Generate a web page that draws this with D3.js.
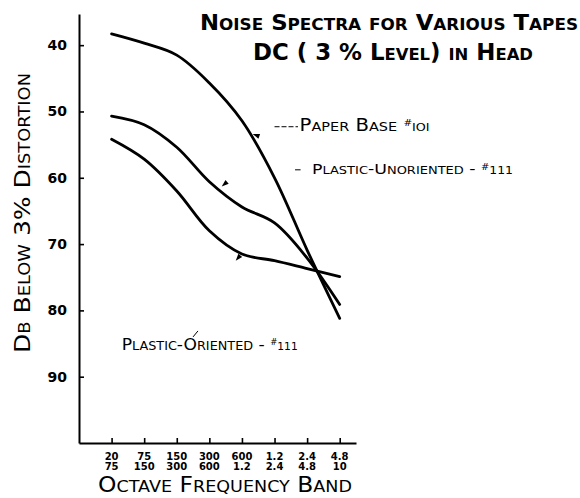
<!DOCTYPE html>
<html><head><meta charset="utf-8">
<script src="https://cdn.jsdelivr.net/npm/d3@7"></script>
<style>body{margin:0;background:#fff}</style>
</head><body>
<script>
// ---- data ----
const bands = [0, 1, 2, 3, 4, 5, 6, 7];
const bandTop = ["20", "75", "150", "300", "600", "1.2", "2.4", "4.8"];
const bandBottom = ["75", "150", "300", "600", "1.2", "2.4", "4.8", "10"];
const yTicks = [40, 50, 60, 70, 80, 90];
const paperBase = [38.3, 39.7, 41.5, 45.7, 51.4, 60.0, 70.9, 81.2];
const plasticUnoriented = [50.7, 52.0, 55.4, 60.6, 64.4, 66.8, 72.1, 79.1];
const plasticOriented = [54.2, 57.2, 62.0, 68.0, 71.5, 72.5, 73.7, 74.9];

const W = 580, H = 498;
const FONT = "DejaVu Sans";
const svg = d3.select("body").append("svg").attr("width", W).attr("height", H)
  .style("font-family", FONT);

const x = d3.scaleLinear().domain([-1, 7.5]).range([79, 356]);
const y = d3.scaleLinear().domain([35.3, 100]).range([14, 443]);

// small caps helper
function smallCaps(textSel, str, big, small) {
  const runs = [];
  for (const ch of str) {
    const isSmall = ch !== ch.toUpperCase();
    const last = runs[runs.length - 1];
    if (last && last.small === isSmall) last.s += ch; else runs.push({ s: ch, small: isSmall });
  }
  runs.forEach(r => textSel.append("tspan").attr("font-size", r.small ? small : big).text(r.s.toUpperCase()));
  return textSel;
}

// axes
const yAxis = svg.append("g").attr("transform", `translate(${x(-1)},0)`)
  .call(d3.axisLeft(y).tickValues(yTicks).tickSize(-5).tickSizeOuter(0).tickPadding(12));
yAxis.select(".domain").attr("stroke-width", 2);
yAxis.selectAll(".tick line").attr("stroke-width", 1.6);
yAxis.selectAll(".tick text").attr("font-size", 14).attr("font-weight", "bold").attr("font-family", FONT).attr("fill", "#000");

const xAxis = svg.append("g").attr("transform", `translate(0,${y(100)})`)
  .call(d3.axisBottom(x).tickValues(bands).tickSize(-5).tickSizeOuter(0).tickFormat(""));
xAxis.select(".domain").attr("stroke-width", 2);
xAxis.selectAll(".tick line").attr("stroke-width", 1.6);

const bandLabels = svg.append("g").attr("font-size", 10).attr("font-weight", "bold").attr("text-anchor", "middle");
bands.forEach(i => {
  bandLabels.append("text").attr("x", x(i)).attr("y", 460).text(bandTop[i]);
  bandLabels.append("text").attr("x", x(i)).attr("y", 470).text(bandBottom[i]);
});

// curves
const line = d3.line().x((d, i) => x(bands[i])).y(d => y(d)).curve(d3.curveCatmullRom.alpha(0.5));
[paperBase, plasticUnoriented, plasticOriented].forEach(s => {
  svg.append("path").attr("d", line(s)).attr("fill", "none").attr("stroke", "#000")
    .attr("stroke-width", 2.8).attr("stroke-linecap", "round");
});

// arrows on curves
function arrow(bx, dv, angle) {
  svg.append("path").attr("d", "M0,0 L7,-2.5 L7,2.5 Z").attr("fill", "#000")
    .attr("transform", `translate(${x(bx)},${y(dv)}) rotate(${angle})`);
}
arrow(4.33, 53.4, 20);
arrow(3.38, 61.3, -40);
arrow(3.81, 72.5, -50);

// labels
const paperT = svg.append("text").attr("x", x(5.77)).attr("y", y(52.9))
  .attr("textLength", 130).attr("lengthAdjust", "spacingAndGlyphs");
smallCaps(paperT, "Paper Base ", 17, 12.5);
paperT.append("tspan").attr("font-size", 9).attr("dy", -5).text("#");
paperT.append("tspan").attr("font-size", 11).attr("dy", 5).text("IOI");
svg.append("line").attr("x1", x(5.0)).attr("x2", x(5.72)).attr("y1", y(52.3)).attr("y2", y(52.3))
  .attr("stroke", "#000").attr("stroke-width", 1).attr("stroke-dasharray", "5,2");

const unorT = svg.append("text").attr("x", x(6.15)).attr("y", y(59.4))
  .attr("textLength", 201).attr("lengthAdjust", "spacingAndGlyphs");
smallCaps(unorT, "Plastic-Unoriented - ", 14, 10.5);
unorT.append("tspan").attr("font-size", 8).attr("dy", -4).text("#");
unorT.append("tspan").attr("font-size", 10).attr("dy", 4).text("111");
svg.append("line").attr("x1", x(5.63)).attr("x2", x(5.8)).attr("y1", y(58.8)).attr("y2", y(58.8))
  .attr("stroke", "#000").attr("stroke-width", 1);

const oriT = svg.append("text").attr("x", x(0.31)).attr("y", y(86.0))
  .attr("textLength", 176).attr("lengthAdjust", "spacingAndGlyphs");
smallCaps(oriT, "Plastic-Oriented - ", 16, 12);
oriT.append("tspan").attr("font-size", 8).attr("dy", -5).text("#");
oriT.append("tspan").attr("font-size", 10).attr("dy", 5).text("111");
svg.append("line").attr("x1", x(2.5)).attr("x2", x(2.65)).attr("y1", y(84.0)).attr("y2", y(83.1))
  .attr("stroke", "#000").attr("stroke-width", 1);

// title
const t1 = svg.append("text").attr("x", 200).attr("y", 30).attr("font-weight", "bold")
  .attr("textLength", 378).attr("lengthAdjust", "spacingAndGlyphs");
smallCaps(t1, "Noise Spectra for Various Tapes", 21, 15.5);
const t2 = svg.append("text").attr("x", 253).attr("y", 60).attr("font-weight", "bold")
  .attr("textLength", 280).attr("lengthAdjust", "spacingAndGlyphs");
smallCaps(t2, "DC ( 3 % Level) in Head", 23, 16.5);

// axis titles
const yt = svg.append("text").attr("transform", "translate(30,213) rotate(-90)")
  .attr("text-anchor", "middle").attr("textLength", 280).attr("lengthAdjust", "spacingAndGlyphs");
smallCaps(yt, "Db Below 3% Distortion", 21, 15);
const xt = svg.append("text").attr("x", 98).attr("y", 492)
  .attr("textLength", 254).attr("lengthAdjust", "spacingAndGlyphs");
smallCaps(xt, "Octave Frequency Band", 22, 16.5);
</script>
</body></html>
